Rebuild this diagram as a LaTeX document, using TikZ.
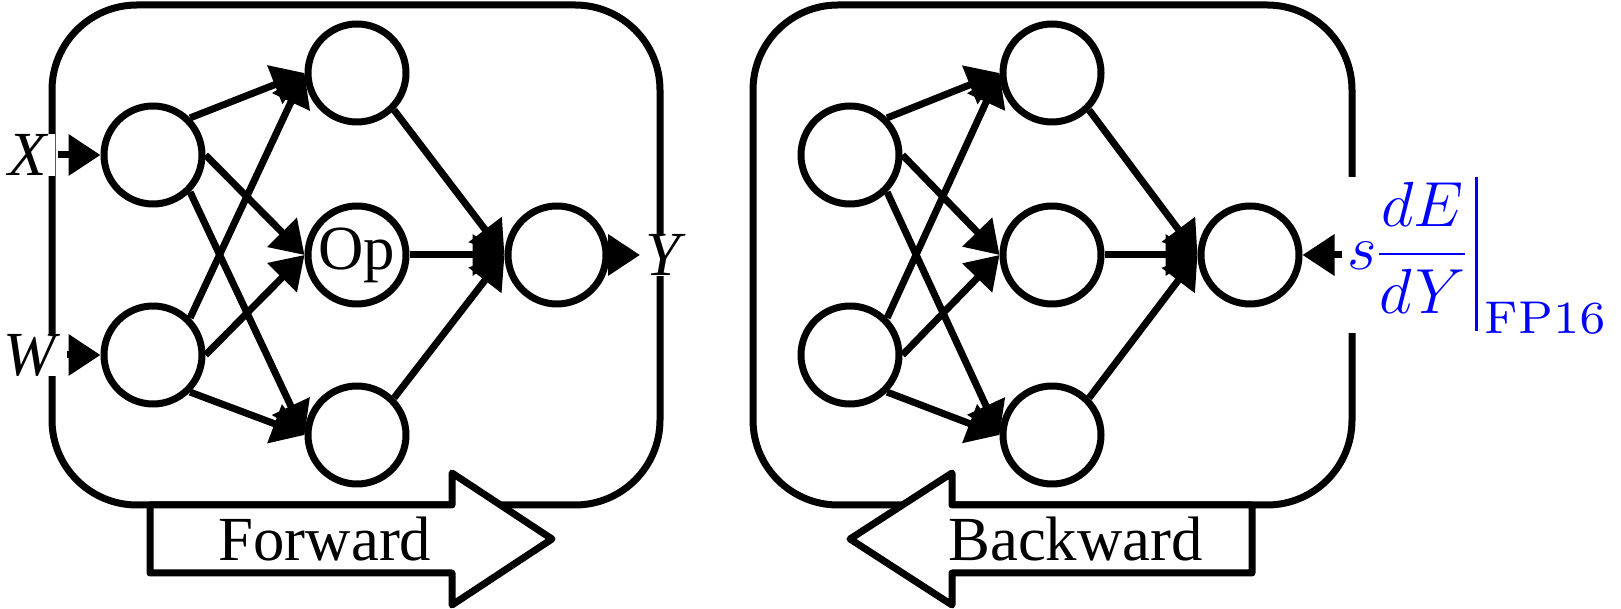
\RequirePackage{fix-cm}
\documentclass[tikz,border=0pt]{standalone}
\usepackage{amsmath}
\usepackage{fontspec}
\usetikzlibrary{arrows.meta}
\newfontfamily\timesfont{Liberation Serif}
\newcommand\nnfont{\timesfont\fontsize{31.5}{36}\selectfont}
\font\fpfont=cmr7 at 23bp
\tikzset{
  neuron/.style={circle,draw,minimum size=49bp,inner sep=0pt,font=\nnfont},
  lab/.style={fill=white,inner xsep=4bp,inner ysep=0pt,font=\nnfont\itshape},
  gradlab/.style={fill=white,text=blue,inner xsep=1bp,inner ysep=0pt},
  panel/.style={draw,rounded corners=42.5bp},
  bigarrow/.style={draw,fill=white,line join=round},
}
\begin{document}
\begin{tikzpicture}[>={Triangle[length=16bp,width=20bp]},line join=bevel,line width=3.5bp,]
  \useasboundingbox (0bp,0bp) rectangle (810.5bp,304.5bp);
%%
  % Box: forward
  \draw[panel] (26bp,52bp) rectangle (330bp,302bp);
  % Box: backward
  \draw[panel] (376.5bp,52bp) rectangle (676bp,302bp);
%
  % Arrow: Forward
  \draw[bigarrow] (75bp,52bp) -- (226bp,52bp) -- (226bp,68bp) -- (276bp,35bp) -- (226bp,2bp) -- (226bp,18bp) -- (75bp,18bp) -- cycle;
  \node[font=\nnfont] (fwd) at (162.5bp,35bp) {Forward};
  % Arrow: Backward
  \draw[bigarrow] (425bp,35bp) -- (476bp,68bp) -- (476bp,52bp) -- (626bp,52bp) -- (626bp,18bp) -- (476bp,18bp) -- (476bp,2bp) -- cycle;
  \node[font=\nnfont] (bwd) at (537.75bp,35bp) {Backward};
%
  % Node: forward net
  \node[neuron] (fin1) at (76.5bp,227bp) {};
  \node[neuron] (fin2) at (76.5bp,127bp) {};
  \node[neuron] (fmid1) at (178.5bp,268bp) {};
  \node[neuron] (fop) at (178.5bp,177bp) {Op};
  \node[neuron] (fmid3) at (178.5bp,87bp) {};
  \node[neuron] (fout) at (278.5bp,177bp) {};
  % Node: backward net
  \node[neuron] (bin1) at (425bp,227bp) {};
  \node[neuron] (bin2) at (425bp,127bp) {};
  \node[neuron] (bmid1) at (526bp,268bp) {};
  \node[neuron] (bmid2) at (526bp,177bp) {};
  \node[neuron] (bmid3) at (526bp,87bp) {};
  \node[neuron] (bout) at (625bp,177bp) {};
%
  % Node: labels
  \node[lab,anchor=east] (xlab) at (29bp,227bp) {X};
  \node[lab,anchor=east] (wlab) at (33.5bp,127bp) {W};
  \node[lab,anchor=west,inner xsep=1bp] (ylab) at (320bp,177bp) {Y};
  \node[gradlab,anchor=west] (grad) at (671bp,177bp) {\fontsize{32}{38}\selectfont
    $s\dfrac{dE}{dY}\mkern2mu\vcenter{\hbox{\rule{1.6bp}{77bp}}}_{\hbox{\kern3bp\fpfont FP16}}$};
%
  % Edge: inputs
  \draw [->] (xlab.east) -- (fin1.west);
  \draw [->] (wlab.east) -- (fin2.west);
  \draw [->] (fout.east) -- (ylab.west);
  \draw [->] (grad.west) -- (bout.east);
  % Edge: forward net
  \draw [->] (fin1.north east) -- (fmid1.west);
  \draw [->] (fin1.east) -- (fop.west);
  \draw [->] (fin1.south east) -- (fmid3.west);
  \draw [->] (fin2.north east) -- (fmid1.west);
  \draw [->] (fin2.east) -- (fop.west);
  \draw [->] (fin2.south east) -- (fmid3.west);
  \draw [->] (fmid1.south east) -- (fout.west);
  \draw [->] (fop.east) -- (fout.west);
  \draw [->] (fmid3.north east) -- (fout.west);
  % Edge: backward net
  \draw [->] (bin1.north east) -- (bmid1.west);
  \draw [->] (bin1.east) -- (bmid2.west);
  \draw [->] (bin1.south east) -- (bmid3.west);
  \draw [->] (bin2.north east) -- (bmid1.west);
  \draw [->] (bin2.east) -- (bmid2.west);
  \draw [->] (bin2.south east) -- (bmid3.west);
  \draw [->] (bmid1.south east) -- (bout.west);
  \draw [->] (bmid2.east) -- (bout.west);
  \draw [->] (bmid3.north east) -- (bout.west);
%
\end{tikzpicture}
\end{document}
